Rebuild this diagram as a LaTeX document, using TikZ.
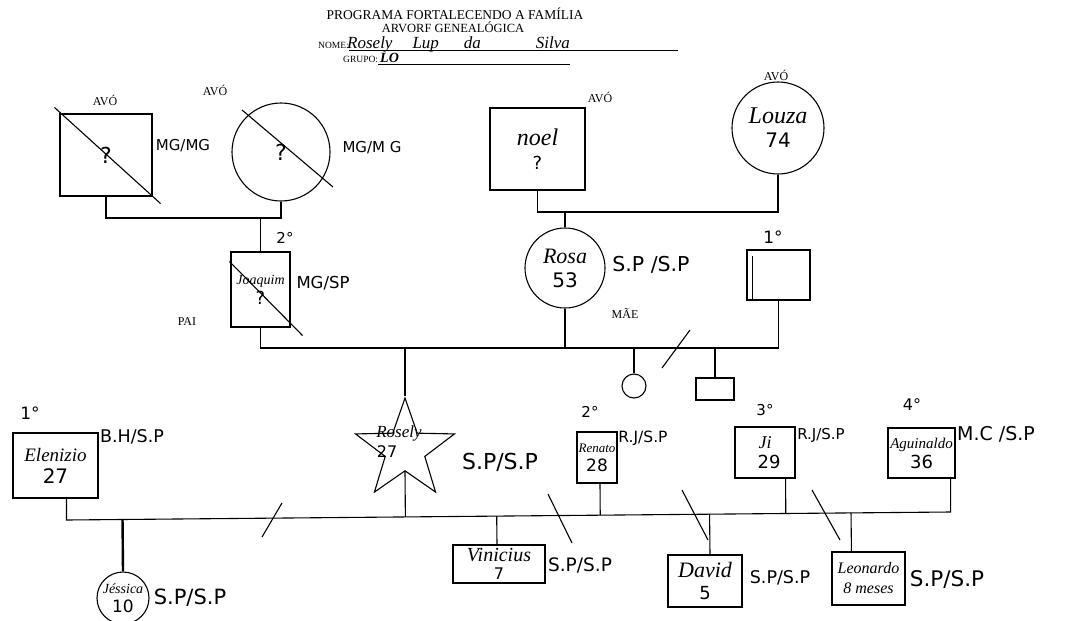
\documentclass[tikz,border=0pt]{standalone}
\usepackage{fontspec}
\setmainfont{Liberation Serif}
\newfontfamily\hand{DejaVu Sans}
\usetikzlibrary{shapes.geometric,calc}
\newcommand\nmf[1]{\itshape\fontsize{#1}{#1}\selectfont}
\newcommand\nuf[1]{\hand\fontsize{#1}{#1}\selectfont}
\begin{document}
\begin{tikzpicture}[x=1pt,y=-1pt,
  ln/.style={line width=1.1pt},
  thin/.style={line width=0.7pt},
  thk/.style={line width=2.4pt},
  pbox/.style={draw,line width=1.1pt,rectangle,inner sep=0pt,align=center},
  pcirc/.style={draw,line width=1.1pt,circle,inner sep=0pt,align=center},
  prt/.style={font=\fontsize{12}{14}\selectfont,inner sep=0pt},
  hw/.style={font={\hand\fontsize{#1}{#1}\selectfont},inner sep=0pt},
  hw/.default=18]
\fill[white] (0,0) rectangle (1090,621);
\useasboundingbox (0,0) rectangle (1090,621);

% header
\node[font=\fontsize{13.5}{15}\selectfont,inner sep=0pt] (t1) at (455,14) {PROGRAMA FORTALECENDO A FAMÍLIA};
\node[font=\fontsize{12.5}{14}\selectfont,inner sep=0pt,text depth=0pt,anchor=base] (t2) at (453,32) {ARVORF GENEALÓGICA};
\node[font=\fontsize{9.5}{11}\selectfont,inner sep=0pt,anchor=base west] (nome) at (318,48) {NOME:};
\node[font={\nmf{17}},inner sep=0pt,text height=10pt,text depth=1pt,anchor=base west] (nomeval) at (347,48) {Rosely\hspace{20pt}Lup\hspace{25pt}da\hspace{55pt}Silva};
\coordinate (nomeEnd) at (678,50);
\draw[thin] (nome.base east |- nomeEnd) -- (nomeEnd);
\node[font=\fontsize{9.5}{11}\selectfont,inner sep=0pt,anchor=base west] (grupo) at (343,62) {GRUPO:};
\node[font={\nmf{14}\bfseries},inner sep=0pt,text height=8pt,anchor=base west] (grupoval) at (380,62.5) {LO};
\coordinate (grupoEnd) at (570,64);
\draw[thin] (grupo.base east |- grupoEnd) -- (grupoEnd);

% paternal grandparents
\node[pbox,minimum width=92pt,minimum height=82pt,font={\nuf{22}}] (avoA) at (106,155) {?};
\draw[ln] ($(avoA.north west)+(-5,-6)$) -- ($(avoA.south east)+(8,7)$);
\node[prt] (lA) at (105,100) {AVÓ};
\node[hw=15] (cA) at (183,146) {MG/MG};
\node[pcirc,minimum size=98pt,font={\nuf{22}}] (avoB) at (281,152) {?};
\draw[ln] ($(avoB.center)+(-39,-42)$) -- ($(avoB.center)+(52,35)$);
\node[prt] (lB) at (215,90) {AVÓ};
\node[hw=15] (cB) at (372,148) {MG/M G};
\coordinate (mA) at (0,218);
\draw[ln] (avoA.south) -- (avoA.south |- mA) -- (avoB.south |- mA) -- (avoB.south);

% father
\node[pbox,minimum width=59pt,minimum height=75pt,font=\fontsize{18}{20}\selectfont] (joaq) at (260.5,289.5) {{\nmf{14}Joaquim}\\{\nuf{18}?}};
\draw[ln] (joaq.north |- mA) -- (joaq.north);
\draw[ln] ($(joaq.north west)+(-1,10)$) -- ($(joaq.south east)+(12,8)$);
\node[hw=15] (o2a) at (285,238) {2°};
\node[hw=16.5] (cJ) at (323,283) {MG/SP};
\node[prt] (pai) at (187,322) {PAI};

% maternal grandparents
\node[pbox,minimum width=95pt,minimum height=82pt,font=\fontsize{22}{24}\selectfont] (noel) at (537.5,149) {{\nmf{24}noel}\\{\nuf{18}?}};
\node[prt] (lC) at (600,97) {AVÓ};
\node[pcirc,minimum size=92pt,font=\fontsize{22}{24}\selectfont] (louza) at (778,128) {{\nmf{24}Louza}\\{\nuf{20}74}};
\node[prt] (lD) at (776,75) {AVÓ};
\coordinate (mB) at (0,212);
\draw[ln] (noel.south) -- (noel.south |- mB) -- (louza.south |- mB) -- (louza.south);

% mother
\node[pcirc,minimum size=80pt,font=\fontsize{22}{24}\selectfont] (rosa) at (565,268) {{\nmf{22}Rosa}\\{\nuf{20}53}};
\draw[ln] (rosa.north |- mB) -- (rosa.north);
\node[hw=20.5] (cR) at (651,265) {S.P /S.P};
\node[prt] (mae) at (625,313) {MÃE};

% mother's first partner and their children
\node[pbox,minimum width=63pt,minimum height=50pt] (mar1) at (778.5,275) {};
\draw[ln] ($(mar1.north west)+(6,7)$) -- ($(mar1.south west)+(6,0)$);
\node[hw=17] (o1a) at (773,237) {1°};
\coordinate (mC) at (0,348);
\draw[ln] (joaq.south) -- (joaq.south |- mC) -- (mar1.south |- mC) -- (mar1.south);
\draw[thk] (rosa.south) -- (rosa.south |- mC);
\draw[ln] (662,368) -- (690,330);
\node[pcirc,minimum size=24pt] (sib1) at (634,386) {};
\draw[ln] (sib1.north |- mC) -- (sib1.north);
\node[pbox,minimum width=38pt,minimum height=22pt] (sib2) at (715,389) {};
\draw[ln] (sib2.north |- mC) -- (sib2.north);

% Rosely
\node[star,star points=5,star point ratio=2.5,draw,line width=1.1pt,minimum size=104pt,inner sep=0pt] (rosely) at (405,450) {};
\node[font={\nmf{17}},inner sep=0pt] (rosN) at (399,433) {Rosely};
\node[font={\nuf{16}},inner sep=0pt] (rosA) at (387,452) {27};
\draw[ln] (rosely.north |- mC) -- (rosely.north);
\node[hw=22] (cS) at (500,462) {S.P/S.P};

% partners of Rosely
\node[pbox,minimum width=85pt,minimum height=65pt,font=\fontsize{20}{22}\selectfont] (elen) at (55.5,465.5) {{\nmf{19}Elenizio}\\{\nuf{20}27}};
\node[hw=17] (o1b) at (30,413) {1°};
\node[hw=17.5] (cE) at (132,437) {B.H/S.P};
\node[pbox,minimum width=67pt,minimum height=50pt,font=\fontsize{18}{20}\selectfont] (agui) at (921.5,453) {{\nmf{15}Aguinaldo}\\{\nuf{18}36}};
\node[hw=16] (o4) at (912,405) {4°};
\node[hw=19] (cAg) at (996,434) {M.C /S.P};
\coordinate (elenDrop) at ($(elen.south)+(11,0)$);
\coordinate (aguiDrop) at ($(agui.south east)+(-5,0)$);
\coordinate (yL) at (0,520);
\coordinate (yR) at (0,512);
\coordinate (bL) at (elenDrop |- yL);
\coordinate (bR) at (aguiDrop |- yR);
\draw[ln] (elenDrop) -- (bL) -- (bR) -- (aguiDrop);
\draw[ln] (rosely.south) -- ($(bL)!(rosely.south)!(bR)$);

\node[pbox,minimum width=40pt,minimum height=51pt,font=\fontsize{17}{19}\selectfont] (ren) at (597,457.5) {{\nmf{13}Renato}\\{\nuf{17}28}};
\coordinate (renDrop) at ($(ren.south)+(3,0)$);
\draw[ln] (renDrop) -- ($(bL)!(renDrop)!(bR)$);
\node[hw=15] (o2b) at (590,412) {2°};
\node[hw=15.5] (cRe) at (643,438) {R.J/S.P};

\node[pbox,minimum width=60pt,minimum height=51pt,font=\fontsize{18}{20}\selectfont] (ji) at (765,452.5) {{\nmf{18}Ji\hspace{18pt}}\\{\nuf{18}\hspace{8pt}29}};
\coordinate (jiDrop) at ($(ji.south east)+(-10,0)$);
\draw[ln] (jiDrop) -- ($(bL)!(jiDrop)!(bR)$);
\node[hw=15] (o3) at (765,410) {3°};
\node[hw=15] (cJi) at (821,435) {R.J/S.P};

% children of Rosely
\node[pcirc,minimum size=52pt,font=\fontsize{17}{19}\selectfont] (jes) at (123,598) {{\nmf{14}Jéssica}\\{\nuf{17}10}};
\draw[thk] ($(bL)!(jes.north)!(bR)$) -- (jes.north);
\node[hw=21] (cJe) at (190,598) {S.P/S.P};
\draw[ln] (262,537) -- (282,503);

\node[pbox,minimum width=92pt,minimum height=38pt,font=\fontsize{17}{18}\selectfont] (vin) at (499,564) {{\nmf{20}Vinicius}\\{\nuf{16}7}};
\coordinate (vinTop) at ($(vin.north)+(-2,0)$);
\draw[ln] ($(bL)!(vinTop)!(bR)$) -- (vinTop);
\node[hw=18.5] (cV) at (580,565) {S.P/S.P};
\draw[ln] (548,494) -- (572,543);

\node[pbox,minimum width=74pt,minimum height=52pt,font=\fontsize{20}{22}\selectfont] (dav) at (705,581) {{\nmf{22}David}\\{\nuf{18}5}};
\coordinate (davTop) at ($(dav.north)+(5,0)$);
\draw[ln] ($(bL)!(davTop)!(bR)$) -- (davTop);
\node[hw=17.5] (cD) at (780,578) {S.P/S.P};
\draw[ln] (682,490) -- (708,540);

\node[pbox,minimum width=73pt,minimum height=53pt,font=\fontsize{18}{20}\selectfont] (leo) at (868.5,578.5) {{\nmf{16}Leonardo}\\{\nmf{16}8 meses}};
\coordinate (leoTop) at ($(leo.north west)+(20,0)$);
\draw[ln] ($(bL)!(leoTop)!(bR)$) -- (leoTop);
\node[hw=21.5] (cL) at (947,580) {S.P/S.P};
\draw[ln] (812,490) -- (840,540);
\end{tikzpicture}
\end{document}
